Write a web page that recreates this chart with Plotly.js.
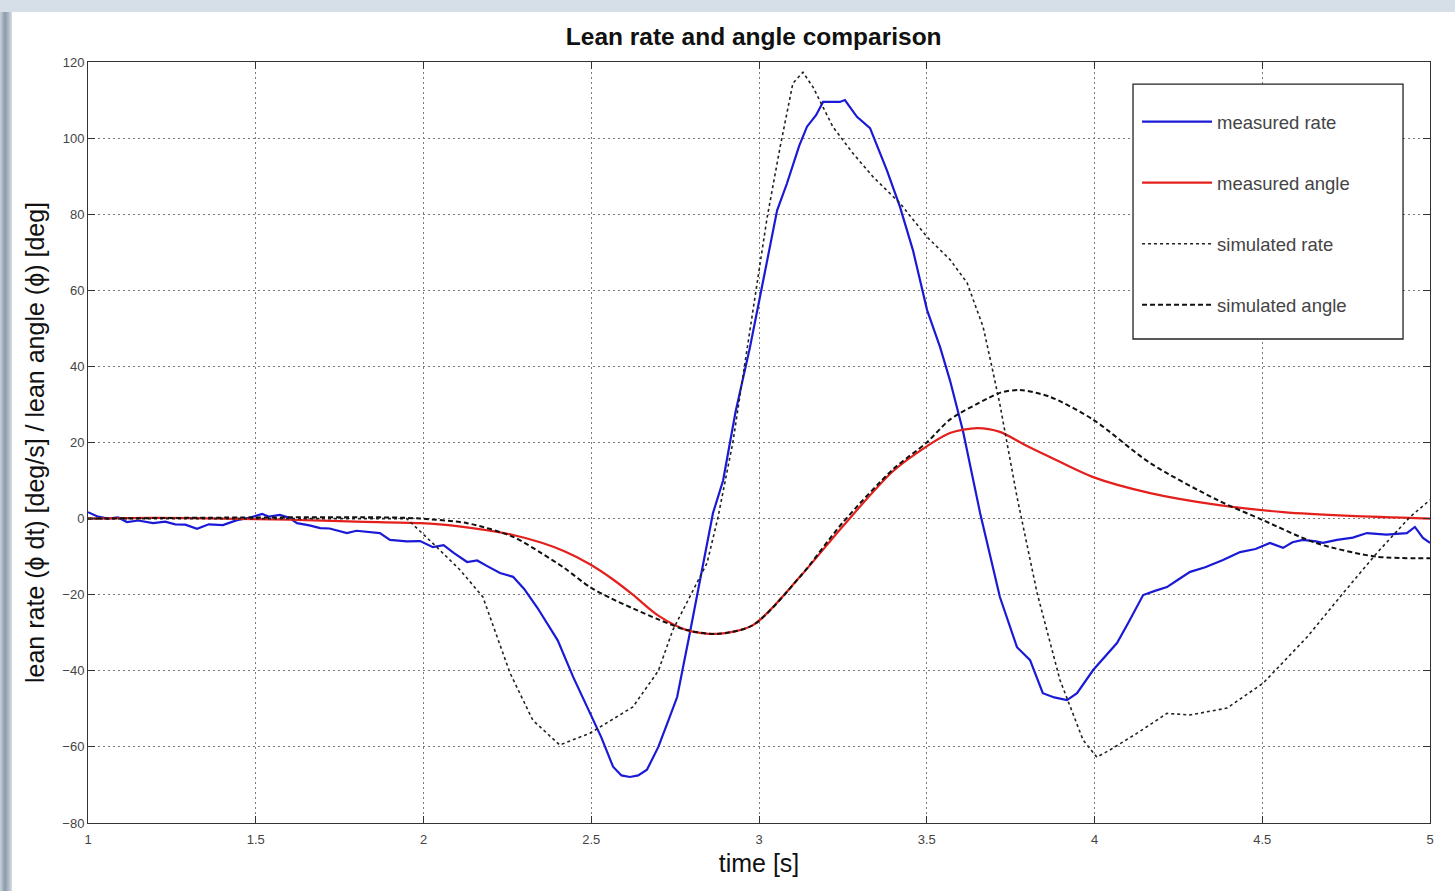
<!DOCTYPE html>
<html>
<head>
<meta charset="utf-8">
<script src="https://cdn.plot.ly/plotly-3.0.1.min.js"></script>
<style>
  html, body { margin: 0; padding: 0; width: 1455px; height: 891px; overflow: hidden;
    background: linear-gradient(to right, #c9d2dd 0px, #8d99a8 5px, #c9d2dd 11px, #d6dee8 12px); }
  #frame { position: absolute; left: 0; top: 0; width: 1455px; height: 12px; background: #d6dee8; }
  #chart { position: absolute; left: 12px; top: 12px; width: 1443px; height: 879px; background: #fff; }
</style>
</head>
<body>
<div id="frame"></div>
<div id="chart"></div>
<script>
// ---- data (time in s, values in deg/s or deg) ----
const measRateT = [1.0,1.03,1.06,1.09,1.116,1.15,1.194,1.23,1.26,1.29,1.325,1.36,1.402,1.444,1.48,1.50,1.519,1.54,1.572,1.60,1.623,1.66,1.692,1.72,1.772,1.80,1.84,1.870,1.900,1.95,1.990,2.028,2.06,2.09,2.130,2.16,2.19,2.228,2.267,2.30,2.34,2.368,2.40,2.446,2.496,2.53,2.565,2.59,2.615,2.64,2.666,2.70,2.73,2.756,2.794,2.83,2.863,2.893,2.93,2.973,3.012,3.054,3.083,3.12,3.143,3.17,3.191,3.22,3.241,3.256,3.292,3.331,3.381,3.420,3.459,3.501,3.540,3.569,3.608,3.659,3.718,3.769,3.808,3.846,3.88,3.918,3.948,3.996,4.03,4.067,4.10,4.145,4.18,4.216,4.25,4.285,4.33,4.383,4.434,4.48,4.523,4.562,4.59,4.621,4.66,4.681,4.723,4.77,4.812,4.87,4.931,4.955,4.979,5.0];
const measRate  = [1.7,0.5,0,0.3,-0.9,-0.5,-1.2,-0.8,-1.5,-1.6,-2.7,-1.5,-1.7,-0.4,0.2,0.8,1.2,0.5,1.0,0.2,-1.2,-1.8,-2.5,-2.6,-3.8,-3.2,-3.6,-3.8,-5.6,-6.0,-5.9,-7.5,-7.0,-9.0,-11.4,-11.0,-12.5,-14.3,-15.3,-18.5,-23.5,-27.4,-32,-41.6,-51,-57.5,-65.2,-67.5,-67.9,-67.5,-66,-60,-53,-46.9,-30,-14,1.5,10,28,45,62,81,88,98,103,106,109.5,109.5,109.5,110,105.6,102.6,91.6,82,70.5,54.8,45,36.4,23,1.5,-20.6,-33.8,-37.2,-45.9,-47,-47.7,-45.9,-39.8,-36.5,-32.7,-27.5,-20.1,-19,-18,-16,-14,-12.8,-10.9,-8.8,-8.0,-6.4,-7.7,-6.2,-5.6,-6.0,-6.4,-5.6,-5.0,-3.8,-4.2,-3.8,-2.2,-5.1,-6.4];

const measAngleT = [1.0,1.2,1.4,1.6,1.8,1.99,2.1,2.267,2.35,2.42,2.496,2.565,2.624,2.70,2.785,2.875,2.982,3.122,3.25,3.40,3.50,3.569,3.650,3.718,3.79,3.867,3.996,4.166,4.366,4.562,4.762,5.0];
const measAngle  = [0,0.2,0,-0.3,-0.8,-1.2,-2,-4.3,-6.3,-8.6,-12.0,-16.0,-20.0,-25.5,-29.3,-30.3,-28,-15.3,-2,12.5,19,22.5,23.8,22.8,19.5,16.2,10.9,6.7,3.6,1.7,0.7,0];

const simRateT = [1.0,1.5,1.95,2.028,2.109,2.177,2.258,2.326,2.406,2.496,2.624,2.70,2.743,2.845,2.877,2.922,2.963,3.024,3.063,3.101,3.131,3.161,3.22,3.28,3.340,3.42,3.501,3.57,3.62,3.668,3.689,3.718,3.769,3.829,3.897,3.966,4.007,4.046,4.127,4.216,4.285,4.395,4.502,4.633,4.741,4.842,4.940,5.0];
const simRate  = [0,0,0,-6.5,-13.5,-20.6,-40.6,-53,-59.5,-56.4,-49.5,-40,-29.3,-11.7,0,20,44,79,97.7,114.4,117.3,113.4,103,96,89.8,82.9,74,68,62,50.4,42,30,5.7,-19.6,-42.4,-58.2,-62.7,-60.8,-56.4,-51.2,-51.6,-49.8,-43.3,-31.2,-19.6,-9,0.4,4.9];

const simAngleT = [1.0,1.5,1.9,1.99,2.13,2.267,2.35,2.42,2.496,2.56,2.624,2.70,2.785,2.875,2.982,3.122,3.25,3.40,3.50,3.569,3.68,3.72,3.777,3.867,3.996,4.166,4.366,4.502,4.66,4.84,5.0];
const simAngle  = [0,0.3,0.3,0,-1.2,-4.8,-9,-13,-18,-21,-23.6,-26.5,-29.3,-30.3,-28,-15.3,-1,13,20,26,31.5,33.1,33.8,32,26,14.6,4.9,-0.4,-6.4,-10,-10.4];

const seriesNames = ['measured rate','measured angle','simulated rate','simulated angle'];
const xTicks = [1,1.5,2,2.5,3,3.5,4,4.5,5];
const xTickText = ['1','1.5','2','2.5','3','3.5','4','4.5','5'];
const yTicks = [-80,-60,-40,-20,0,20,40,60,80,100,120];

const traces = [
  {x: measRateT, y: measRate, name: seriesNames[0], legendgroup: 'a', mode: 'lines',
   line: {color: '#1a1ad6', width: 2.2}},
  {x: measAngleT, y: measAngle, name: seriesNames[1], legendgroup: 'b', mode: 'lines',
   line: {color: '#e3201c', width: 2.2, shape: 'spline', smoothing: 0.8}},
  {x: simRateT, y: simRate, name: seriesNames[2], legendgroup: 'c', mode: 'lines',
   line: {color: '#222', width: 1.6, dash: 'dot'}},
  {x: simAngleT, y: simAngle, name: seriesNames[3], legendgroup: 'd', mode: 'lines',
   line: {color: '#111', width: 2, dash: '5px,3px', shape: 'spline', smoothing: 0.8}}
];

const axisCommon = {
  showline: true, linecolor: '#333', linewidth: 1, mirror: 'ticks',
  ticks: 'inside', ticklen: 7, tickcolor: '#333',
  showgrid: true, gridcolor: '#7a7a7a', gridwidth: 1, griddash: '2px,3px',
  zeroline: false,
  tickfont: {family: 'Liberation Sans, Arial, sans-serif', size: 13, color: '#444'}
};

const layout = {
  width: 1443, height: 879,
  margin: {l: 76, r: 25, t: 50, b: 68},
  paper_bgcolor: '#ffffff', plot_bgcolor: '#ffffff',
  font: {family: 'Liberation Sans, Arial, sans-serif', color: '#222'},
  title: {text: '<b>Lean rate and angle comparison</b>', x: 0.514, xanchor: 'center', y: 0.982, yanchor: 'top',
          font: {family: 'Liberation Sans, Arial, sans-serif', size: 24.5, color: '#111'}},
  xaxis: Object.assign({}, axisCommon, {
    range: [1, 5], tickvals: xTicks, ticktext: xTickText, ticklabelstandoff: 4,
    title: {text: 'time [s]', standoff: 8, font: {size: 25, color: '#111'}}
  }),
  yaxis: Object.assign({}, axisCommon, {
    range: [-80, 120], tickvals: yTicks,
    title: {text: 'lean rate (ϕ dt) [deg/s] / lean angle (ϕ) [deg]', standoff: 10, font: {size: 25, color: '#111'}}
  }),
  shapes: [
    {type: 'rect', xref: 'paper', yref: 'paper', x0: 0.7787, x1: 0.9799, y0: 0.636, y1: 0.971,
     fillcolor: '#ffffff', line: {color: '#222', width: 1.3}, layer: 'above'}
  ],
  legend: {
    x: 0.7817, y: 0.946, xanchor: 'left', yanchor: 'top',
    bgcolor: 'rgba(255,255,255,0)', borderwidth: 0,
    font: {family: 'Liberation Sans, Arial, sans-serif', size: 18.5, color: '#444'},
    tracegroupgap: 34, itemwidth: 70, traceorder: 'grouped'
  },
  showlegend: true
};

Plotly.newPlot('chart', traces, layout, {displayModeBar: false, staticPlot: true});
</script>
</body>
</html>
